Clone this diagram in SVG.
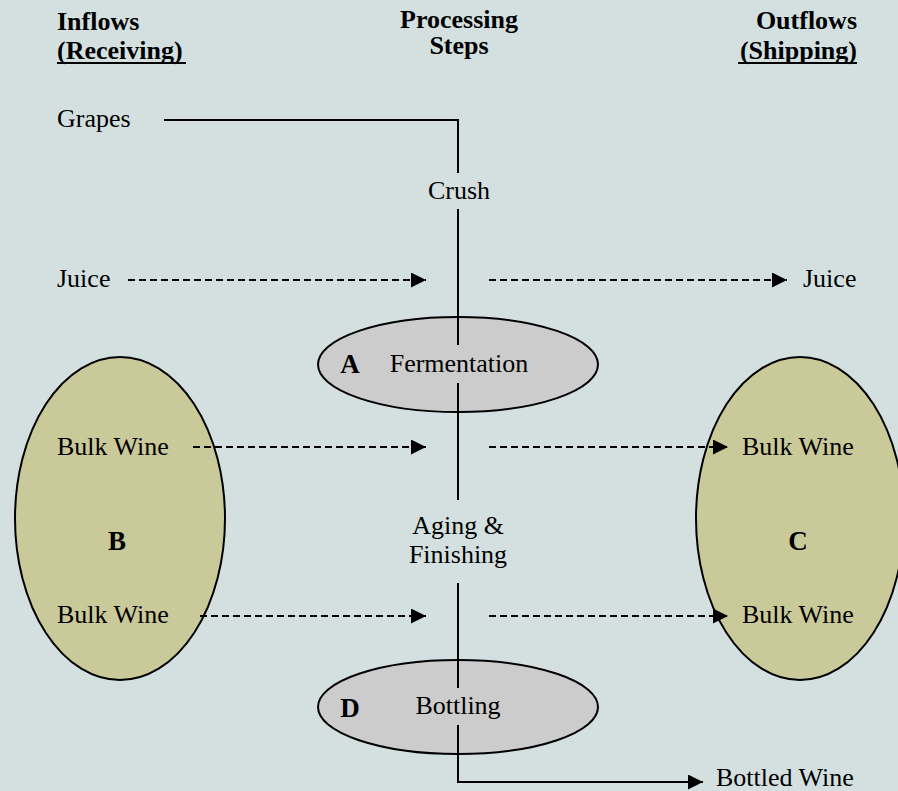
<svg xmlns="http://www.w3.org/2000/svg" width="898" height="791" viewBox="0 0 898 791">
<defs>
<style>
text{font-family:"Liberation Serif","Times New Roman",serif;font-size:26px;fill:#000}
.h{font-weight:bold}
.big{font-weight:bold;font-size:27px}
.flow{stroke:#000;stroke-width:2;fill:none}
.dash{stroke:#000;stroke-width:2;fill:none;stroke-dasharray:7 4}
.ul{stroke:#000;stroke-width:2}
.grey{fill:#cccccc;stroke:#000;stroke-width:2}
.olive{fill:#c9c99a;stroke:#000;stroke-width:2}
</style>
<marker id="ah" markerUnits="userSpaceOnUse" markerWidth="16" markerHeight="16" refX="15" refY="7.5" orient="auto">
<path d="M0,0 L15,7.5 L0,15 Z" fill="#000"/>
</marker>
</defs>
<rect width="898" height="791" fill="#d4e0e0"/>

<g id="headers">
<text class="h" x="57" y="30">Inflows</text>
<text class="h" x="57" y="59">(Receiving)</text>
<line class="ul" x1="57" y1="63" x2="186" y2="63"/>
<text class="h" x="459" y="28" text-anchor="middle">Processing</text>
<text class="h" x="459" y="54" text-anchor="middle">Steps</text>
<text class="h" x="857" y="29" text-anchor="end">Outflows</text>
<text class="h" x="857" y="59" text-anchor="end">(Shipping)</text>
<line class="ul" x1="738" y1="63" x2="857" y2="63"/>
</g>

<g id="nodeB">
<ellipse class="olive" cx="120" cy="518.5" rx="105" ry="161.5"/>
<text class="big" x="117" y="550" text-anchor="middle">B</text>
</g>
<g id="nodeC">
<ellipse class="olive" cx="800" cy="518.5" rx="104" ry="161.5"/>
<text class="big" x="798" y="550" text-anchor="middle">C</text>
</g>
<g id="nodeA">
<ellipse class="grey" cx="458" cy="364.5" rx="140" ry="47.5"/>
<text class="big" x="350" y="373" text-anchor="middle">A</text>
<text x="459" y="372" text-anchor="middle">Fermentation</text>
</g>
<g id="nodeD">
<ellipse class="grey" cx="458" cy="707" rx="140" ry="47"/>
<text class="big" x="350" y="717" text-anchor="middle">D</text>
<text x="458" y="714" text-anchor="middle">Bottling</text>
</g>

<g id="labels">
<text x="57" y="127">Grapes</text>
<text x="459" y="199" text-anchor="middle">Crush</text>
<text x="57" y="287">Juice</text>
<text x="803" y="287">Juice</text>
<text x="57" y="455">Bulk Wine</text>
<text x="57" y="623">Bulk Wine</text>
<text x="742" y="455">Bulk Wine</text>
<text x="742" y="623">Bulk Wine</text>
<text x="458" y="534" text-anchor="middle">Aging &amp;</text>
<text x="458" y="563" text-anchor="middle">Finishing</text>
<text x="716" y="786">Bottled Wine</text>
</g>

<g id="connectors">
<polyline class="flow" points="164,120 458,120 458,173"/>
<line class="flow" x1="458" y1="209" x2="458" y2="345"/>
<line class="flow" x1="458" y1="383" x2="458" y2="500"/>
<line class="flow" x1="458" y1="583" x2="458" y2="688"/>
<polyline class="flow" points="458,725 458,782 703,782" marker-end="url(#ah)"/>
<line class="dash" x1="128" y1="280" x2="426" y2="280" marker-end="url(#ah)"/>
<line class="dash" x1="489" y1="280" x2="787" y2="280" marker-end="url(#ah)"/>
<line class="dash" x1="193" y1="447" x2="426" y2="447" marker-end="url(#ah)"/>
<line class="dash" x1="489" y1="447" x2="728" y2="447" marker-end="url(#ah)"/>
<line class="dash" x1="200" y1="616" x2="426" y2="616" marker-end="url(#ah)"/>
<line class="dash" x1="489" y1="616" x2="728" y2="616" marker-end="url(#ah)"/>
</g>
</svg>
